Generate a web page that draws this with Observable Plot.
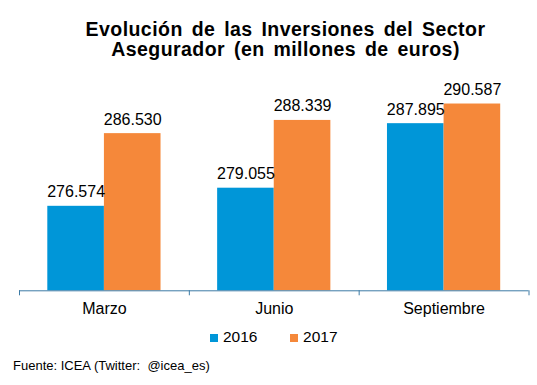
<!DOCTYPE html>
<html>
<head>
<meta charset="utf-8">
<script src="https://cdn.jsdelivr.net/npm/d3@7"></script>
<script src="https://cdn.jsdelivr.net/npm/@observablehq/plot@0.6"></script>
<style>
  html, body { margin: 0; padding: 0; background: #ffffff; }
  body { font-family: "Liberation Sans", Arial, sans-serif; color: #000; }
  #wrap { position: relative; width: 537px; height: 385px; overflow: hidden; background: #fff; }
  #title { position: absolute; left: 34px; width: 503px; top: 18.8px; text-align: center;
           font-weight: bold; font-size: 19.5px; line-height: 20px; letter-spacing: 0.45px; word-spacing: 3px; }
  #chart { position: absolute; left: 0; top: 60px; }
  #legend { position: absolute; left: 210px; top: 329.3px; font-size: 15.5px; line-height: 16px; white-space: nowrap; }
  #legend .item { display: inline-block; }
  #legend .item + .item { margin-left: 32.6px; }
  #legend .sw { display: inline-block; width: 8px; height: 8.5px; margin-right: 5px; vertical-align: baseline; }
  #caption { position: absolute; left: 13px; top: 358.5px; font-size: 13px; line-height: 13px; white-space: nowrap; }
</style>
</head>
<body>
<div id="wrap">
  <div id="title">Evolución de las Inversiones del Sector<br>Asegurador (en millones de euros)</div>
  <div id="chart"></div>
  <div id="legend"></div>
  <div id="caption">Fuente: ICEA (Twitter:&nbsp; @icea_es)</div>
</div>
<script>
// ---- data ----
const months = ["Marzo", "Junio", "Septiembre"];
const years = ["2016", "2017"];
const v2016 = [276574, 279055, 287895];
const v2017 = [286530, 288339, 290587];
const colors = ["#0096D8", "#F5883A"];
const yDomain = [265000, 295000];
const axisColor = "#3C7BA6";

const series = [v2016, v2017];
const rows = months.flatMap((m, i) =>
  years.map((yr, k) => ({ month: m, i, k, year: yr, value: series[k][i] }))
);

const fmt = d3.formatLocale({ decimal: ",", thousands: ".", grouping: [3], currency: ["", " €"] }).format(",d");

const chart = Plot.plot({
  width: 537,
  height: 262,
  marginLeft: 19,
  marginRight: 8.5,
  marginTop: 11.3,
  marginBottom: 31.7,
  x: { type: "linear", domain: [0, months.length] },
  y: { domain: yDomain, axis: null },
  color: { domain: years, range: colors },
  style: { fontFamily: "'Liberation Sans', Arial, sans-serif", fontSize: "16px", color: "#000", background: "transparent", overflow: "visible" },
  marks: [
    Plot.rectY(rows, {
      x1: d => d.i + 1 / 6 + d.k / 3,
      x2: d => d.i + 1 / 6 + (d.k + 1) / 3,
      y1: () => yDomain[0],
      y2: "value",
      fill: "year"
    }),
    Plot.text(rows, {
      x: d => d.i + 1 / 3 + d.k / 3,
      y: "value",
      text: d => fmt(d.value),
      lineAnchor: "bottom",
      dy: -9,
      fontSize: 16,
      fill: "#000"
    }),
    Plot.ruleY([yDomain[0]], { stroke: axisColor, strokeWidth: 1 }),
    Plot.axisX({ ticks: d3.range(months.length + 1), tickSize: 5, tickFormat: () => "", stroke: axisColor }),
    Plot.axisX({ ticks: months.map((m, i) => i + 0.5), tickSize: 0, tickPadding: 12.3,
                 tickFormat: d => months[Math.floor(d)], fontSize: 16, fill: "#000" })
  ]
});
document.getElementById("chart").appendChild(chart);

// legend
const legend = document.getElementById("legend");
years.forEach((yr, k) => {
  const item = document.createElement("span");
  item.className = "item";
  const sw = document.createElement("span");
  sw.className = "sw";
  sw.style.background = colors[k];
  item.appendChild(sw);
  item.appendChild(document.createTextNode(yr));
  legend.appendChild(item);
});
</script>
</body>
</html>
